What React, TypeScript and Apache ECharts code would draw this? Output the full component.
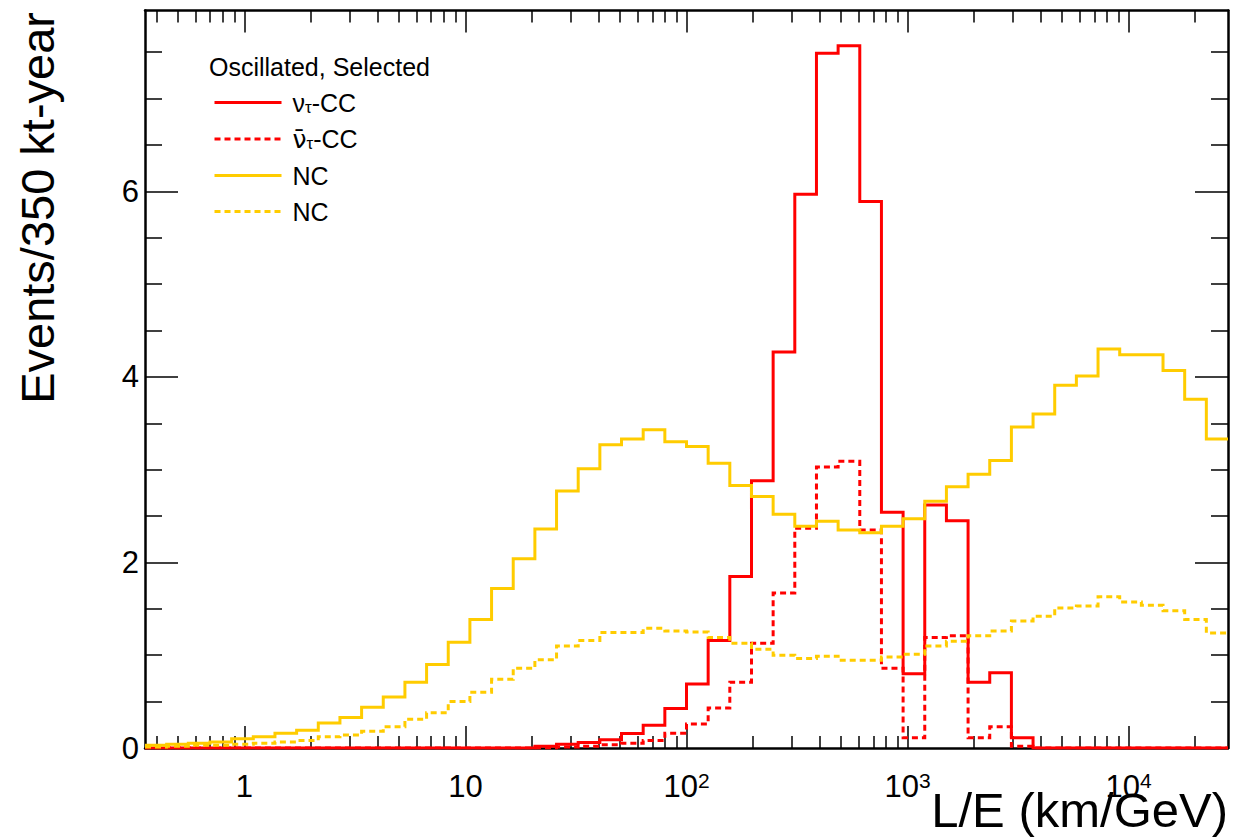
import React, { useEffect, useRef } from "react";
import * as echarts from "echarts";

// ---- binning (log-uniform bins in L/E) ----
const LOG_MIN = -0.45;
const LOG_MAX = 4.45;
const N_BINS = 50;
const EDGES: number[] = Array.from({ length: N_BINS + 1 }, (_, k) =>
  Math.pow(10, LOG_MIN + ((LOG_MAX - LOG_MIN) * k) / N_BINS)
);

// ---- axis ticks / labels ----
const X_MAJOR_TICKS = [1, 10, 100, 1000, 10000];
const X_TICK_LABELS = ["{b|1}", "{b|10}", "{b|10}{s|2}", "{b|10}{s|3}", "{b|10}{s|4}"];
const X_MINOR_TICKS = [
  0.4, 0.5, 0.6, 0.7, 0.8, 0.9,
  2, 3, 4, 5, 6, 7, 8, 9,
  20, 30, 40, 50, 60, 70, 80, 90,
  200, 300, 400, 500, 600, 700, 800, 900,
  2000, 3000, 4000, 5000, 6000, 7000, 8000, 9000,
  20000,
];
const Y_MAX = 7.95;
const Y_MAJOR_TICKS = [0, 2, 4, 6];
const Y_MINOR_TICKS = [0.5, 1, 1.5, 2.5, 3, 3.5, 4.5, 5, 5.5, 6.5, 7, 7.5];

// ---- histogram contents (events per bin) ----
const NUTAU_CC = [
  0, 0, 0, 0, 0, 0, 0, 0, 0, 0,
  0, 0, 0, 0, 0, 0, 0, 0, 0.02, 0.04,
  0.06, 0.09, 0.155, 0.245, 0.425, 0.69, 1.16, 1.85, 2.88, 4.27,
  5.97, 7.49, 7.57, 5.89, 2.54, 0.8, 2.62, 2.45, 0.71, 0.81,
  0.11, 0, 0, 0, 0, 0, 0, 0, 0, 0,
];
const NUTAUBAR_CC = [
  0, 0, 0, 0, 0, 0, 0, 0, 0, 0,
  0, 0, 0, 0, 0, 0, 0, 0, 0, 0.01,
  0.02, 0.035, 0.05, 0.08, 0.16, 0.26, 0.43, 0.71, 1.13, 1.67,
  2.37, 3.03, 3.09, 2.35, 0.86, 0.11, 1.19, 1.21, 0.11, 0.23,
  0.02, 0, 0, 0, 0, 0, 0, 0, 0, 0,
];
const NC_SOLID = [
  0.03, 0.04, 0.05, 0.065, 0.1, 0.12, 0.16, 0.19, 0.27, 0.33,
  0.44, 0.55, 0.71, 0.9, 1.14, 1.385, 1.72, 2.04, 2.36, 2.77,
  3.01, 3.27, 3.33, 3.43, 3.3, 3.25, 3.07, 2.83, 2.71, 2.52,
  2.39, 2.445, 2.35, 2.32, 2.39, 2.47, 2.66, 2.815, 2.95, 3.1,
  3.46, 3.6, 3.91, 4.01, 4.3, 4.24, 4.24, 4.07, 3.76, 3.33,
];
const NC_DOTTED = [
  0.01, 0.02, 0.03, 0.03, 0.04, 0.05, 0.065, 0.08, 0.12, 0.14,
  0.18, 0.23, 0.31, 0.38, 0.5, 0.6, 0.74, 0.86, 0.95, 1.1,
  1.16, 1.245, 1.245, 1.29, 1.26, 1.25, 1.19, 1.13, 1.065, 1.0,
  0.965, 0.99, 0.946, 0.946, 0.98, 1.01, 1.1, 1.15, 1.21, 1.26,
  1.37, 1.42, 1.51, 1.53, 1.63, 1.575, 1.54, 1.48, 1.385, 1.24,
];

const SERIES_NAMES = ["nutau-CC", "nutaubar-CC", "NC-solid", "NC-dotted"];
const LEGEND_LABELS = [
  "{n|ν}{s|τ}{n|-CC}",
  "{nb|ν̄}{s|τ}{n|-CC}",
  "{n|NC}",
  "{n|NC}",
];
const LEGEND_HEADER = "Oscillated, Selected";
const X_TITLE = "L/E (km/GeV)";
const Y_TITLE = "Events/350 kt-year";

const RED = "#ff0000";
const YELLOW = "#ffcc00";
const FONT = "'Liberation Sans', Arial, Helvetica, sans-serif";
const DASH = [6, 4];

function histData(vals: number[]) {
  const pts: number[][] = vals.map((v, i) => [EDGES[i], v]);
  pts.push([EDGES[N_BINS], vals[N_BINS - 1]]);
  return pts;
}

const XMIN = EDGES[0];
const XMAX = EDGES[N_BINS];

function xAxisDef(position: "bottom" | "top", major: boolean, showLine: boolean, showLabel: boolean) {
  return {
    type: "log",
    logBase: 10,
    position,
    min: XMIN,
    max: XMAX,
    splitLine: { show: false },
    axisLine: { show: showLine, onZero: false, lineStyle: { color: "#000", width: 2.5 } },
    axisTick: {
      show: true,
      inside: true,
      length: major ? 22 : 12,
      customValues: major ? X_MAJOR_TICKS : X_MINOR_TICKS,
      lineStyle: { color: "#000", width: 1.5 },
    },
    axisLabel: showLabel
      ? {
          show: true,
          customValues: X_MAJOR_TICKS,
          margin: 22,
          formatter: (v: number) => {
            const i = X_MAJOR_TICKS.findIndex((t) => Math.abs(t - v) / t < 1e-6);
            return i >= 0 ? X_TICK_LABELS[i] : "";
          },
          rich: {
            b: { fontSize: 31, lineHeight: 32, color: "#000", fontFamily: FONT },
            s: { fontSize: 21, lineHeight: 10, verticalAlign: "top", color: "#000", fontFamily: FONT },
          },
        }
      : { show: false },
  };
}

function yAxisDef(position: "left" | "right", major: boolean, showLine: boolean, showLabel: boolean) {
  return {
    type: "value",
    position,
    min: 0,
    max: Y_MAX,
    splitLine: { show: false },
    axisLine: { show: showLine, onZero: false, lineStyle: { color: "#000", width: 2.5 } },
    axisTick: {
      show: true,
      inside: true,
      length: major ? 33 : 17,
      customValues: major ? Y_MAJOR_TICKS : Y_MINOR_TICKS,
      lineStyle: { color: "#000", width: 1.5 },
    },
    axisLabel: showLabel
      ? {
          show: true,
          customValues: Y_MAJOR_TICKS,
          margin: 6,
          fontSize: 31,
          color: "#000",
          fontFamily: FONT,
        }
      : { show: false },
  };
}

export default function App() {
  const ref = useRef<HTMLDivElement>(null);

  useEffect(() => {
    if (!ref.current) return;
    const chart = echarts.init(ref.current, null, { renderer: "svg" });

    const colors = [RED, RED, YELLOW, YELLOW];
    const dashes: any[] = ["solid", DASH, "solid", DASH];
    const values = [NUTAU_CC, NUTAUBAR_CC, NC_SOLID, NC_DOTTED];

    const option: any = {
      animation: false,
      backgroundColor: "#ffffff",
      grid: { left: 145, right: 6, top: 10.5, bottom: 89, containLabel: false },
      xAxis: [
        xAxisDef("bottom", true, true, true),
        xAxisDef("bottom", false, false, false),
        xAxisDef("top", true, true, false),
        xAxisDef("top", false, false, false),
      ],
      yAxis: [
        yAxisDef("left", true, true, true),
        yAxisDef("left", false, false, false),
        yAxisDef("right", true, true, false),
        yAxisDef("right", false, false, false),
      ],
      legend: {
        show: true,
        orient: "vertical",
        left: 213,
        top: 90,
        padding: 0,
        itemWidth: 67,
        itemHeight: 14,
        itemGap: 11,
        data: SERIES_NAMES,
        itemStyle: { opacity: 0, color: "rgba(0,0,0,0)", borderWidth: 0 },
        lineStyle: { width: 3 },
        formatter: (name: string) => LEGEND_LABELS[SERIES_NAMES.indexOf(name)],
        textStyle: {
          color: "#000",
          fontSize: 25,
          fontFamily: FONT,
          padding: [0, 0, 0, 6],
          rich: {
            n: { fontSize: 25, lineHeight: 26, color: "#000", fontFamily: FONT },
            nb: { fontSize: 25, lineHeight: 26, color: "#000", fontFamily: "'DejaVu Sans', sans-serif" },
            s: { fontSize: 17, lineHeight: 2, verticalAlign: "bottom", color: "#000", fontFamily: FONT },
          },
        },
      },
      graphic: [
        {
          type: "text",
          left: 209,
          top: 54,
          style: { text: LEGEND_HEADER, fontSize: 25, fontFamily: FONT, fill: "#000" },
        },
        {
          type: "text",
          x: 1228,
          y: 809.7,
          style: {
            text: X_TITLE,
            fontSize: 49,
            fontFamily: FONT,
            fill: "#000",
            align: "right",
            verticalAlign: "middle",
          },
        },
        {
          type: "text",
          x: 37,
          y: 12,
          rotation: Math.PI / 2,
          style: {
            text: Y_TITLE,
            fontSize: 47,
            fontFamily: FONT,
            fill: "#000",
            align: "right",
            verticalAlign: "middle",
          },
        },
      ],
      series: SERIES_NAMES.map((name, i) => ({
        name,
        type: "line",
        xAxisIndex: 0,
        yAxisIndex: 0,
        step: "end",
        symbol: "none",
        showSymbol: false,
        silent: true,
        z: 3 + i,
        data: histData(values[i]),
        itemStyle: { color: colors[i] },
        lineStyle: { color: colors[i], width: 3, type: dashes[i], cap: "butt", join: "miter" },
      })),
    };

    chart.setOption(option);
    return () => chart.dispose();
  }, []);

  return (
    <div
      ref={ref}
      style={{ position: "absolute", left: 0, top: 0, width: 1234, height: 837, background: "#fff" }}
    />
  );
}
